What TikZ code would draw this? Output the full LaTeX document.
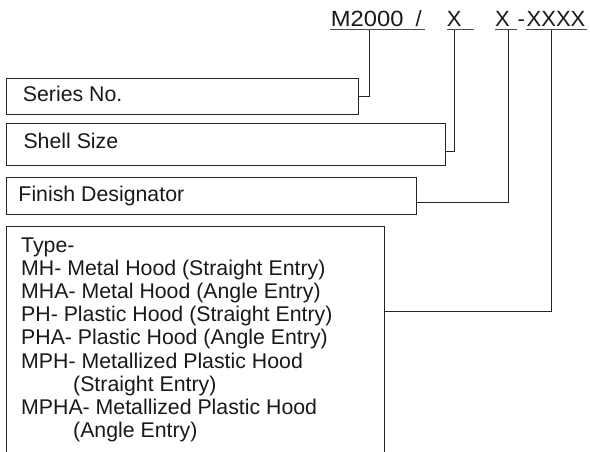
\documentclass[tikz,border=0pt]{standalone}
\usepackage{fontspec}
\setmainfont{Liberation Sans}
\begin{document}
\begin{tikzpicture}[x=1pt,y=-1pt,
  boxline/.style={draw=black!85,line width=0.9pt},
  conn/.style={draw=black!85,line width=0.9pt},
  uline/.style={draw=black!70,line width=1pt},
  lbl/.style={inner sep=0pt,anchor=base west,font=\fontsize{21.3}{23.2}\selectfont,text=black!90},
  code/.style={inner sep=0pt,anchor=base west,font=\fontsize{22}{24}\selectfont,text=black!90},
  emptybox/.style={inner sep=0pt,outer sep=0pt,anchor=north west}]
\useasboundingbox (0,0) rectangle (590,452);
% part number
\node[code] (pm) at (330.7,26.7) {\scalebox{1.08}[1]{M2000}};
\node[code] (ps) at (415.5,26.7) {/};
\node[code] (px1) at (446.7,26.7) {X};
\node[code] (px2) at (495,26.7) {X};
\node[code] (ph) at (517.5,26.7) {-};
\node[code] (px4) at (526.5,26.7) {XXXX};
\draw[uline] (330,30) -- (424.5,30);
\draw[uline] (446.7,30) -- (474.3,30);
\draw[uline] (495,30) -- (517.3,30);
\draw[uline] (525.7,30) -- (587,30);
\coordinate (c1) at (369.3,30);
\coordinate (c2) at (454,30);
\coordinate (c3) at (508.3,30);
\coordinate (c4) at (551.7,30);
% boxes
\node[emptybox,boxline,minimum width=352.5pt,minimum height=35.7pt] (sbox) at (6,78.3) {};
\node[lbl] (stxt) at (22.7,101.7) {Series No.};
\node[emptybox,boxline,minimum width=439pt,minimum height=42.4pt] (shbox) at (6,123.3) {};
\node[lbl] (shtxt) at (23.3,149) {Shell Size};
\node[emptybox,boxline,minimum width=410pt,minimum height=37.3pt] (fbox) at (6,177) {};
\node[lbl] (ftxt) at (18.3,201.7) {Finish Designator};
\node[emptybox,minimum width=378.3pt,minimum height=226pt] (tbox) at (6,226.7) {};
\draw[boxline] (tbox.south west) |- (tbox.north east) -- (tbox.south east);
\foreach \i/\xx/\txt in {1/21/{Type-},
  2/21/{MH- Metal Hood (Straight Entry)},
  3/21/{MHA- Metal Hood (Angle Entry)},
  4/21/{PH- Plastic Hood (Straight Entry)},
  5/21/{PHA- Plastic Hood (Angle Entry)},
  6/21/{MPH- Metallized Plastic Hood},
  7/73/{(Straight Entry)},
  8/21/{MPHA- Metallized Plastic Hood},
  9/73/{(Angle Entry)}}
  \node[lbl] (t\i) at (\xx,{252+23.2*(\i-1)}) {\txt};
% connectors
\coordinate (e2) at (445,151);
\coordinate (e3) at (416,202.3);
\coordinate (e4) at (384.3,311.7);
\draw[conn] (c1) |- (sbox.east);
\draw[conn] (c2) |- (e2);
\draw[conn] (c3) |- (e3);
\draw[conn] (c4) |- (e4);
\end{tikzpicture}
\end{document}
